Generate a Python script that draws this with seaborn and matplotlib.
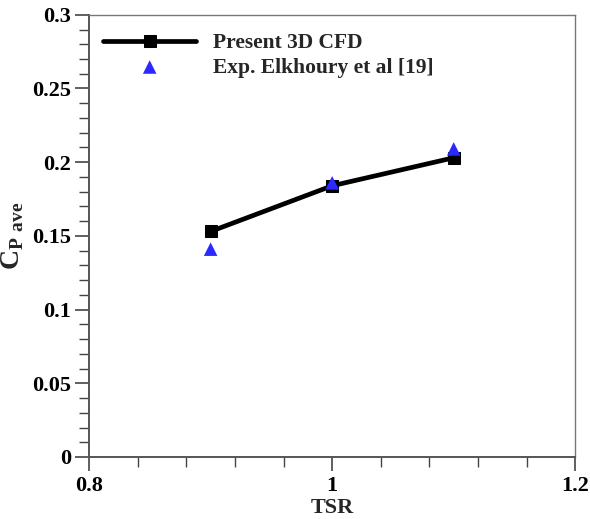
import numpy as np
import pandas as pd
import seaborn as sns
import matplotlib
matplotlib.use('Agg')
import matplotlib.pyplot as plt
from matplotlib.ticker import MultipleLocator, FuncFormatter

# data
tsr = [0.9, 1.0, 1.1]
cp_cfd = [0.153, 0.184, 0.203]
cp_exp = [0.141, 0.186, 0.209]

sns.set_style('ticks')
plt.rcParams['font.family'] = ['Liberation Serif', 'DejaVu Serif']
plt.rcParams['font.weight'] = 'bold'
plt.rcParams['mathtext.fontset'] = 'custom'
plt.rcParams['mathtext.rm'] = 'Liberation Serif'
plt.rcParams['mathtext.bf'] = 'Liberation Serif:bold'

df_cfd = pd.DataFrame({'TSR': tsr, 'Cp': cp_cfd})
df_exp = pd.DataFrame({'TSR': tsr, 'Cp': cp_exp})

fig = plt.figure(figsize=(5.9, 5.19), dpi=100)
ax = fig.add_axes([0.151, 0.1195, 0.824, 0.852])

sns.lineplot(data=df_cfd, x='TSR', y='Cp', ax=ax, color='black', lw=3.4,
             marker='s', markersize=9, markeredgecolor='black',
             label='Present 3D CFD', zorder=3)
sns.scatterplot(data=df_exp, x='TSR', y='Cp', ax=ax, color='#2a2aff',
                marker='^', s=95, edgecolor='none',
                label='Exp. Elkhoury et al [19]', zorder=4)

ax.set_xlim(0.8, 1.2)
ax.set_ylim(0, 0.3)
ax.xaxis.set_major_locator(MultipleLocator(0.2))
ax.xaxis.set_minor_locator(MultipleLocator(0.04))
ax.yaxis.set_major_locator(MultipleLocator(0.05))
ax.yaxis.set_minor_locator(MultipleLocator(0.01))
fmt = FuncFormatter(lambda v, p: ('%.2f' % v).rstrip('0').rstrip('.'))
ax.xaxis.set_major_formatter(fmt)
ax.yaxis.set_major_formatter(fmt)

ax.tick_params(which='major', direction='out', length=10, width=1.2,
               labelsize=16, colors='#444444', labelcolor='black')
ax.tick_params(axis='x', which='major', pad=4)
ax.tick_params(axis='y', which='major', pad=3)
ax.tick_params(which='minor', direction='out', length=7, width=1.0,
               colors='#444444')
for lab in ax.get_xticklabels() + ax.get_yticklabels():
    lab.set_fontweight('bold')

for s in ['top', 'right']:
    ax.spines[s].set_visible(True)
    ax.spines[s].set_color('#777777')
    ax.spines[s].set_linewidth(1.0)
for s in ['left', 'bottom']:
    ax.spines[s].set_color('#555555')
    ax.spines[s].set_linewidth(1.4)

ax.set_xlabel('TSR', fontsize=16, fontweight='bold', labelpad=1)
ax.set_ylabel(r'$\mathbf{C}_{\mathbf{P\ ave}}$', fontsize=20, labelpad=4)

leg = ax.legend(loc='upper left', bbox_to_anchor=(0, 0.99), frameon=False,
                handlelength=4.33, handletextpad=0.76, labelspacing=0.2,
                borderaxespad=0.3, borderpad=0.35,
                prop={'weight': 'bold', 'size': 15.5})

fig.savefig('out.png', dpi=100)
